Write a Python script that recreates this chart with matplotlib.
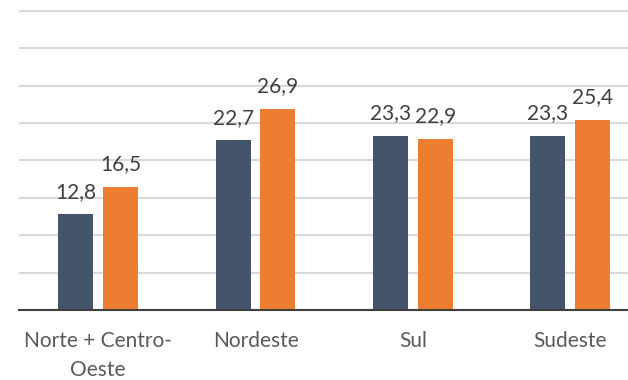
import matplotlib.pyplot as plt
import numpy as np

# regiões e valores das duas séries
regioes = ['Norte + Centro-\nOeste', 'Nordeste', 'Sul', 'Sudeste']
serie_a = [12.8, 22.7, 23.3, 23.3]
serie_b = [16.5, 26.9, 22.9, 25.4]

cor_a = '#44546A'
cor_b = '#ED7D31'

plt.rcParams['font.family'] = ['Lato', 'DejaVu Sans']

fig = plt.figure(figsize=(6.28, 3.80), dpi=100)
ax = fig.add_axes([0.031, 0.184, 0.969, 0.7976])

x = np.arange(len(regioes))
larg = 0.2225
desl = 0.142

barras_a = ax.bar(x - desl, serie_a, larg, color=cor_a, zorder=3)
barras_b = ax.bar(x + desl, serie_b, larg, color=cor_b, zorder=3)

def rotular(barras, valores):
    for b, v in zip(barras, valores):
        ax.annotate(f'{v:.1f}'.replace('.', ','),
                    (b.get_x() + b.get_width() / 2, v),
                    xytext=(0, 9), textcoords='offset points',
                    ha='center', va='bottom', fontsize=15, color='#404040')

rotular(barras_a, serie_a)
rotular(barras_b, serie_b)

ax.set_xlim(-0.5, 3.367)
ax.set_ylim(0, 40.5)
ax.set_yticks(np.arange(0, 41, 5))
ax.yaxis.grid(True, color='#D9D9D9', linewidth=1.5, zorder=0)
ax.set_axisbelow(True)

for lado in ['top', 'right', 'left']:
    ax.spines[lado].set_visible(False)
ax.spines['bottom'].set_color('#404040')
ax.spines['bottom'].set_linewidth(1.5)
ax.spines['bottom'].set_zorder(4)

ax.set_xticks(x)
ax.set_xticklabels(regioes, fontsize=15, color='#595959', linespacing=1.55)
ax.tick_params(axis='x', length=0, pad=15)
ax.tick_params(axis='y', length=0, labelleft=False)

fig.savefig('out.png', dpi=100)
